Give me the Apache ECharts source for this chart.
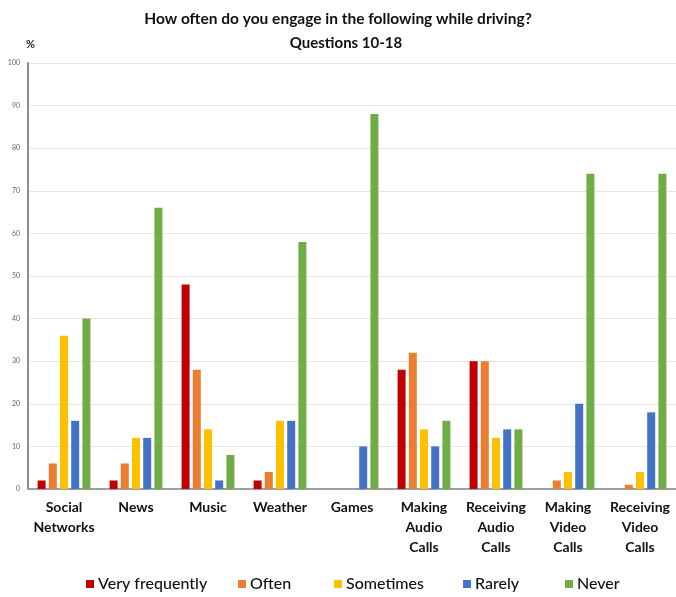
<!DOCTYPE html>
<html><head><meta charset="utf-8">
<script src="https://cdn.jsdelivr.net/npm/echarts@6/dist/echarts.min.js"></script>
<style>html,body{margin:0;padding:0;background:#fff}#c{width:676px;height:597px}</style>
</head><body><div id="c"></div>
<script>
const categories = ['Social\nNetworks','News','Music','Weather','Games','Making\nAudio\nCalls','Receiving\nAudio\nCalls','Making\nVideo\nCalls','Receiving\nVideo\nCalls'];
const veryFrequently = [2, 2, 48, 2, 0, 28, 30, 0, 0];
const often          = [6, 6, 28, 4, 0, 32, 30, 2, 1];
const sometimes      = [36, 12, 14, 16, 0, 14, 12, 4, 4];
const rarely         = [16, 12, 2, 16, 10, 10, 14, 20, 18];
const never          = [40, 66, 8, 58, 88, 16, 14, 74, 74];
const seriesNames = ['Very frequently','Often','Sometimes','Rarely','Never'];
const colors = ['#c00000','#ed7d31','#ffc000','#4472c4','#70ad47'];
const allData = [veryFrequently, often, sometimes, rarely, never];
const legendLeft = [86, 238, 334, 463, 565];

const chart = echarts.init(document.getElementById('c'));
chart.setOption({
  animation:false,
  textStyle:{fontFamily:'Lato, "Open Sans", sans-serif'},
  title:[
    {text:'How often do you engage in the following while driving?', left:333, textAlign:'center', top:6,
     textStyle:{fontSize:15.5, fontWeight:'bold', color:'#111', fontFamily:'Lato'}},
    {text:'Questions 10-18', left:341, textAlign:'center', top:31,
     textStyle:{fontSize:15, fontWeight:'bold', color:'#111', fontFamily:'Lato'}},
    {text:'%', left:21, top:34, textStyle:{fontSize:11, fontWeight:'bold', color:'#222', fontFamily:'Lato'}}
  ],
  legend: seriesNames.map((n,i)=>({
    left:legendLeft[i], top:576, itemWidth:8, itemHeight:8, itemGap:0,
    icon:'rect', padding:0,
    textStyle:{fontSize:16, color:'#111', fontFamily:'Lato', fontWeight:500, padding:[0,0,0,-1]},
    data:[n]
  })),
  grid:{left:28, right:0, top:63, bottom:108},
  xAxis:{
    type:'category', data:categories,
    axisLine:{lineStyle:{color:'#9a9ea8', width:2}},
    axisTick:{show:false},
    axisLabel:{interval:0, fontSize:14, fontWeight:'bold', color:'#111', lineHeight:20, margin:8, fontFamily:'Lato'}
  },
  yAxis:{
    type:'value', min:0, max:100, interval:10,
    axisLine:{show:true, lineStyle:{color:'#8a8e99', width:2}},
    axisTick:{show:false},
    axisLabel:{fontSize:7, color:'#666', margin:8},
    splitLine:{lineStyle:{color:'#e6e6e6'}}
  },
  series: allData.map((d,i)=>({
    name:seriesNames[i], type:'bar', data:d, barWidth:8, barGap:'40%',
    itemStyle:{color:colors[i]}
  }))
});
</script></body></html>
